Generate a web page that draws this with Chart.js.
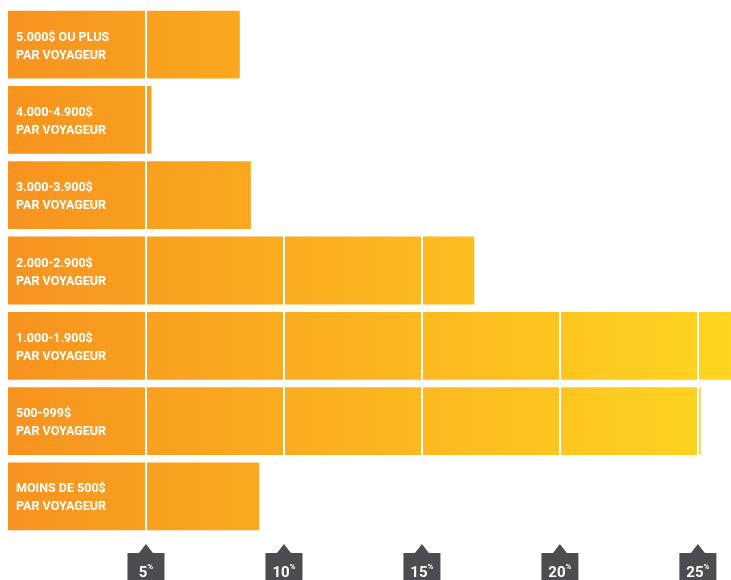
<!DOCTYPE html>
<html>
<head>
<meta charset="utf-8">
<script src="https://cdn.jsdelivr.net/npm/chart.js@4/dist/chart.umd.min.js"></script>
<style>
  html, body { margin: 0; padding: 0; background: #fff; }
  #wrap { width: 731px; height: 580px; position: relative; }
</style>
</head>
<body>
<div id="wrap"><canvas id="chart"></canvas></div>
<script>
// budget par voyageur
const categories = [
  ['5.000$ OU PLUS', 'PAR VOYAGEUR'],
  ['4.000-4.900$', 'PAR VOYAGEUR'],
  ['3.000-3.900$', 'PAR VOYAGEUR'],
  ['2.000-2.900$', 'PAR VOYAGEUR'],
  ['1.000-1.900$', 'PAR VOYAGEUR'],
  ['500-999$', 'PAR VOYAGEUR'],
  ['MOINS DE 500$', 'PAR VOYAGEUR']
]
const values = [8.4, 5.2, 8.8, 16.9, 27, 25.1, 9.1]
const tickValues = [5, 10, 15, 20, 25]
const tickLabels = ['5', '10', '15', '20', '25']

const labelFont = 'Roboto, "DejaVu Sans Condensed", sans-serif'

// labels dans les barres
const barLabels = {
  id: 'barLabels',
  afterDatasetsDraw(chart) {
    const ctx = chart.ctx
    const meta = chart.getDatasetMeta(0)
    ctx.save()
    ctx.fillStyle = '#fff'
    ctx.font = 'bold 12.5px ' + labelFont
    ctx.textBaseline = 'middle'
    meta.data.forEach((bar, i) => {
      const lines = categories[i]
      ctx.fillText(lines[0], 16, bar.y - 7)
      ctx.fillText(lines[1], 16, bar.y + 11)
    })
    ctx.restore()
  }
}

// marqueurs de l'axe x
const tickMarkers = {
  id: 'tickMarkers',
  afterDraw(chart) {
    const ctx = chart.ctx
    const x = chart.scales.x
    ctx.save()
    tickValues.forEach((v, i) => {
      const px = x.getPixelForValue(v)
      ctx.fillStyle = '#4d4d51'
      ctx.beginPath()
      ctx.moveTo(px - 18.5, 553)
      ctx.lineTo(px - 7, 553)
      ctx.lineTo(px, 544)
      ctx.lineTo(px + 7, 553)
      ctx.lineTo(px + 18.5, 553)
      ctx.lineTo(px + 18.5, 580)
      ctx.lineTo(px - 18.5, 580)
      ctx.closePath()
      ctx.fill()
      ctx.fillStyle = '#fff'
      ctx.font = 'bold 15px ' + labelFont
      ctx.textBaseline = 'alphabetic'
      const t = tickLabels[i]
      const w = ctx.measureText(t).width
      ctx.font = 'bold 8px ' + labelFont
      const pw = ctx.measureText('%').width
      const sx = px - (w + pw) / 2
      ctx.font = 'bold 15px ' + labelFont
      ctx.fillText(t, sx, 577)
      ctx.font = 'bold 8px ' + labelFont
      ctx.fillText('%', sx + w, 569)
    })
    ctx.restore()
  }
}

const canvas = document.getElementById('chart')

new Chart(canvas, {
  type: 'bar',
  data: {
    labels: categories.map(c => c.join(' ')),
    datasets: [{
      data: values,
      backgroundColor: function(context) {
        const area = context.chart.chartArea
        if (!area) return '#F7941E'
        const g = context.chart.ctx.createLinearGradient(area.left, 0, area.right, 0)
        g.addColorStop(0, '#F7931F')
        g.addColorStop(1, '#FFD520')
        return g
      },
      borderWidth: 0,
      barPercentage: 0.9,
      categoryPercentage: 1
    }]
  },
  options: {
    indexAxis: 'y',
    responsive: true,
    maintainAspectRatio: false,
    animation: false,
    layout: {
      padding: { top: 7, bottom: 46, left: 8, right: 0 }
    },
    plugins: {
      legend: { display: false },
      tooltip: { enabled: false }
    },
    scales: {
      x: {
        min: 0,
        max: 26.2,
        afterBuildTicks: function(scale) {
          scale.ticks = tickValues.map(v => ({ value: v }))
        },
        grid: {
          color: '#ffffff',
          lineWidth: 2,
          drawTicks: false,
          z: 1
        },
        border: { display: false },
        ticks: { display: false }
      },
      y: {
        display: false
      }
    }
  },
  plugins: [barLabels, tickMarkers]
})
</script>
</body>
</html>
